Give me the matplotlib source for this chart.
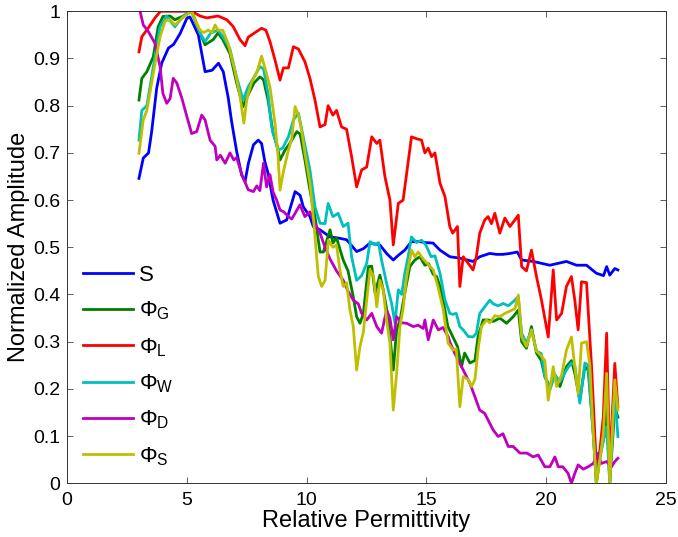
import matplotlib
matplotlib.use("Agg")
import matplotlib.pyplot as plt
from matplotlib.ticker import FixedLocator, FuncFormatter

plt.rcParams["font.family"] = ["Liberation Sans", "DejaVu Sans"]
plt.rcParams["mathtext.fontset"] = "custom"
plt.rcParams["mathtext.rm"] = "Liberation Sans"
plt.rcParams["mathtext.it"] = "Liberation Sans:italic"

# (relative permittivity, normalized amplitude)
S_pts = [(3.0, 0.646), (3.18, 0.689), (3.4, 0.70), (3.53, 0.745), (3.74, 0.837), (3.95, 0.89),
         (4.23, 0.922), (4.45, 0.93), (4.72, 0.953), (5.0, 0.985), (5.13, 0.988), (5.48, 0.95),
         (5.76, 0.872), (6.05, 0.875), (6.32, 0.89), (6.52, 0.872), (6.73, 0.816), (6.87, 0.766),
         (7.08, 0.703), (7.29, 0.653), (7.43, 0.639), (7.57, 0.678), (7.78, 0.717), (7.98, 0.727),
         (8.12, 0.72), (8.26, 0.681), (8.39, 0.657), (8.6, 0.6), (8.89, 0.551), (9.17, 0.558),
         (9.52, 0.618), (9.73, 0.61), (9.86, 0.586), (10.14, 0.565), (10.28, 0.544), (10.56, 0.537),
         (10.98, 0.522), (11.39, 0.519), (11.67, 0.516), (12.09, 0.491), (12.37, 0.497), (12.65, 0.509),
         (13.06, 0.505), (13.34, 0.487), (13.62, 0.473), (13.83, 0.483), (14.1, 0.494), (14.38, 0.512),
         (14.73, 0.512), (14.94, 0.51), (15.28, 0.509), (15.57, 0.494), (15.98, 0.48), (16.4, 0.477),
         (16.95, 0.47), (17.23, 0.48), (17.65, 0.487), (17.93, 0.485), (18.2, 0.485), (18.5, 0.487),
         (18.8, 0.49), (18.98, 0.473), (19.46, 0.47), (20.16, 0.462), (20.85, 0.47), (21.27, 0.462),
         (21.69, 0.462), (22.1, 0.445), (22.4, 0.44), (22.53, 0.459), (22.66, 0.441), (22.87, 0.455),
         (23.0, 0.452)]

PhiG_pts = [(3.0, 0.812), (3.12, 0.858), (3.33, 0.872), (3.6, 0.904), (3.8, 0.967), (4.0, 0.989),
            (4.3, 0.99), (4.5, 0.982), (4.85, 0.99), (5.2, 1.0), (5.55, 0.954), (5.76, 0.929),
            (6.1, 0.94), (6.3, 0.954), (6.5, 0.94), (6.8, 0.91), (7.08, 0.848), (7.35, 0.798),
            (7.56, 0.823), (7.8, 0.848), (8.05, 0.861), (8.2, 0.855), (8.39, 0.812), (8.6, 0.742),
            (8.75, 0.72), (8.89, 0.685), (9.1, 0.706), (9.3, 0.72), (9.59, 0.745), (9.73, 0.74),
            (9.93, 0.685), (10.14, 0.621), (10.35, 0.565), (10.56, 0.49), (10.7, 0.49), (10.98, 0.537),
            (11.1, 0.509), (11.25, 0.52), (11.53, 0.473), (11.73, 0.45), (11.95, 0.395), (12.09, 0.353),
            (12.23, 0.339), (12.37, 0.36), (12.58, 0.459), (12.72, 0.46), (12.86, 0.403), (13.06, 0.441),
            (13.2, 0.41), (13.4, 0.353), (13.62, 0.24), (13.76, 0.325), (13.9, 0.345), (14.1, 0.403),
            (14.31, 0.459), (14.52, 0.473), (14.73, 0.48), (14.94, 0.462), (15.1, 0.465), (15.28, 0.443),
            (15.43, 0.438), (15.57, 0.417), (15.7, 0.388), (15.9, 0.332), (16.1, 0.311), (16.3, 0.29),
            (16.47, 0.247), (16.6, 0.276), (16.82, 0.255), (17.03, 0.26), (17.16, 0.311), (17.37, 0.346),
            (17.58, 0.346), (17.8, 0.343), (18.07, 0.35), (18.35, 0.339), (18.63, 0.353), (18.84, 0.367),
            (18.98, 0.3), (19.18, 0.286), (19.39, 0.332), (19.6, 0.276), (19.8, 0.26), (19.95, 0.226),
            (20.16, 0.205), (20.37, 0.23), (20.58, 0.205), (20.85, 0.247), (21.06, 0.26), (21.2, 0.233),
            (21.41, 0.176), (21.62, 0.247), (21.76, 0.24), (21.97, 0.106), (22.1, 0.0), (22.25, 0.056),
            (22.45, 0.106), (22.53, 0.162), (22.66, 0.0), (22.87, 0.162), (23.0, 0.14)]

PhiL_pts = [(3.0, 0.914), (3.12, 0.946), (3.38, 0.964), (3.67, 0.986), (3.9, 1.0), (4.5, 1.0),
            (5.2, 1.0), (5.55, 0.99), (5.83, 0.986), (6.3, 0.99), (6.67, 0.982), (6.93, 0.968),
            (7.22, 0.94), (7.43, 0.927), (7.56, 0.945), (7.85, 0.955), (8.12, 0.964), (8.3, 0.96),
            (8.47, 0.936), (8.68, 0.897), (8.89, 0.854), (9.03, 0.88), (9.24, 0.88), (9.45, 0.925),
            (9.66, 0.92), (9.93, 0.893), (10.14, 0.858), (10.35, 0.812), (10.56, 0.755), (10.77, 0.76),
            (10.9, 0.80), (11.1, 0.78), (11.25, 0.79), (11.46, 0.755), (11.67, 0.75), (11.88, 0.692),
            (12.09, 0.628), (12.3, 0.664), (12.51, 0.67), (12.72, 0.734), (12.93, 0.72), (13.06, 0.727),
            (13.27, 0.65), (13.48, 0.60), (13.62, 0.505), (13.83, 0.593), (14.03, 0.60), (14.18, 0.657),
            (14.38, 0.734), (14.59, 0.73), (14.8, 0.727), (14.94, 0.70), (15.08, 0.71), (15.22, 0.692),
            (15.36, 0.70), (15.57, 0.636), (15.78, 0.607), (15.98, 0.544), (16.1, 0.53), (16.3, 0.544),
            (16.4, 0.417), (16.54, 0.48), (16.75, 0.466), (16.95, 0.452), (17.09, 0.48), (17.23, 0.53),
            (17.44, 0.558), (17.58, 0.565), (17.72, 0.55), (17.86, 0.572), (18.07, 0.53), (18.28, 0.562),
            (18.49, 0.544), (18.7, 0.558), (18.84, 0.568), (18.98, 0.459), (19.18, 0.45), (19.39, 0.494),
            (19.6, 0.438), (19.81, 0.388), (20.09, 0.31), (20.3, 0.452), (20.44, 0.346), (20.65, 0.36),
            (20.85, 0.417), (21.06, 0.438), (21.2, 0.388), (21.34, 0.325), (21.48, 0.427), (21.69, 0.425),
            (21.9, 0.247), (22.1, 0.035), (22.25, 0.07), (22.39, 0.141), (22.53, 0.318), (22.66, 0.035),
            (22.87, 0.254), (23.0, 0.162)]

PhiW_pts = [(3.0, 0.727), (3.12, 0.79), (3.33, 0.80), (3.6, 0.883), (3.88, 0.967), (4.15, 0.99),
            (4.5, 0.967), (4.85, 0.99), (5.2, 1.0), (5.55, 0.954), (5.76, 0.936), (6.0, 0.954),
            (6.3, 0.96), (6.5, 0.947), (6.8, 0.92), (7.08, 0.86), (7.35, 0.812), (7.56, 0.84),
            (7.8, 0.86), (8.05, 0.883), (8.2, 0.878), (8.39, 0.826), (8.54, 0.755), (8.8, 0.706),
            (9.0, 0.71), (9.24, 0.734), (9.45, 0.77), (9.66, 0.784), (9.86, 0.734), (10.14, 0.664),
            (10.35, 0.586), (10.56, 0.551), (10.77, 0.55), (10.9, 0.593), (11.1, 0.565), (11.32, 0.572),
            (11.53, 0.544), (11.73, 0.551), (11.88, 0.48), (12.09, 0.43), (12.3, 0.44), (12.51, 0.466),
            (12.65, 0.512), (12.86, 0.505), (13.0, 0.51), (13.13, 0.473), (13.34, 0.424), (13.55, 0.381),
            (13.69, 0.339), (13.83, 0.41), (13.97, 0.40), (14.1, 0.445), (14.24, 0.48), (14.38, 0.522),
            (14.59, 0.51), (14.8, 0.515), (14.98, 0.505), (15.2, 0.48), (15.36, 0.482), (15.57, 0.445),
            (15.78, 0.388), (15.98, 0.36), (16.1, 0.358), (16.25, 0.36), (16.4, 0.332), (16.54, 0.325),
            (16.75, 0.311), (16.95, 0.31), (17.09, 0.318), (17.23, 0.36), (17.44, 0.374), (17.65, 0.388),
            (17.8, 0.38), (18.0, 0.376), (18.21, 0.381), (18.42, 0.376), (18.63, 0.385), (18.84, 0.395),
            (18.98, 0.318), (19.18, 0.297), (19.39, 0.325), (19.6, 0.28), (19.8, 0.275), (19.95, 0.226),
            (20.16, 0.198), (20.37, 0.23), (20.58, 0.215), (20.85, 0.24), (21.06, 0.255), (21.2, 0.25),
            (21.41, 0.17), (21.62, 0.255), (21.76, 0.25), (21.97, 0.106), (22.1, 0.0), (22.25, 0.056),
            (22.39, 0.09), (22.53, 0.12), (22.66, 0.0), (22.87, 0.19), (23.0, 0.099)]

PhiD_pts = [(3.0, 1.01), (3.18, 0.971), (3.38, 0.958), (3.67, 0.932), (3.88, 0.883), (4.0, 0.826),
            (4.16, 0.805), (4.3, 0.815), (4.43, 0.858), (4.58, 0.848), (4.79, 0.816), (5.0, 0.777),
            (5.2, 0.741), (5.41, 0.745), (5.62, 0.78), (5.76, 0.77), (5.97, 0.727), (6.18, 0.714),
            (6.25, 0.685), (6.4, 0.695), (6.6, 0.678), (6.8, 0.70), (6.96, 0.685), (7.08, 0.69),
            (7.29, 0.655), (7.56, 0.622), (7.78, 0.618), (7.92, 0.63), (8.05, 0.62), (8.2, 0.678),
            (8.33, 0.628), (8.47, 0.654), (8.6, 0.617), (8.75, 0.6), (8.89, 0.579), (9.05, 0.575),
            (9.24, 0.565), (9.38, 0.56), (9.52, 0.572), (9.72, 0.59), (9.93, 0.565), (10.14, 0.575),
            (10.35, 0.55), (10.56, 0.53), (10.77, 0.50), (10.98, 0.475), (11.25, 0.45), (11.53, 0.43),
            (11.73, 0.407), (11.95, 0.388), (12.16, 0.38), (12.3, 0.36), (12.51, 0.346), (12.72, 0.36),
            (12.93, 0.332), (13.13, 0.318), (13.34, 0.367), (13.48, 0.35), (13.62, 0.304), (13.76, 0.353),
            (13.97, 0.34), (14.18, 0.339), (14.45, 0.332), (14.66, 0.335), (14.87, 0.328), (14.94, 0.346),
            (15.08, 0.304), (15.29, 0.346), (15.5, 0.325), (15.7, 0.33), (15.91, 0.311), (16.0, 0.297),
            (16.19, 0.275), (16.4, 0.254), (16.61, 0.233), (16.82, 0.212), (17.03, 0.183), (17.23, 0.155),
            (17.44, 0.148), (17.58, 0.134), (17.79, 0.113), (18.0, 0.099), (18.2, 0.105), (18.42, 0.078),
            (18.63, 0.078), (18.91, 0.064), (19.2, 0.064), (19.46, 0.056), (19.67, 0.06), (19.95, 0.035),
            (20.16, 0.035), (20.37, 0.056), (20.51, 0.035), (20.7, 0.035), (20.92, 0.021), (21.06, 0.0),
            (21.2, 0.021), (21.34, 0.039), (21.55, 0.03), (21.76, 0.035), (21.97, 0.042), (22.17, 0.064),
            (22.3, 0.042), (22.53, 0.046), (22.73, 0.035), (22.87, 0.046), (23.0, 0.053)]

PhiS_pts = [(3.0, 0.699), (3.18, 0.77), (3.33, 0.79), (3.6, 0.869), (3.88, 0.946), (4.1, 0.98),
            (4.3, 0.982), (4.5, 0.971), (4.8, 0.985), (5.2, 1.0), (5.41, 0.975), (5.55, 0.96),
            (5.7, 0.955), (5.9, 0.96), (6.05, 0.955), (6.18, 0.971), (6.3, 0.96), (6.5, 0.96),
            (6.72, 0.932), (7.0, 0.876), (7.22, 0.82), (7.38, 0.763), (7.5, 0.812), (7.7, 0.85),
            (7.92, 0.87), (8.12, 0.905), (8.26, 0.88), (8.47, 0.84), (8.68, 0.763), (8.8, 0.7),
            (8.89, 0.621), (9.03, 0.66), (9.24, 0.706), (9.38, 0.73), (9.52, 0.798), (9.66, 0.78),
            (9.8, 0.745), (9.93, 0.699), (10.14, 0.636), (10.28, 0.565), (10.42, 0.48), (10.49, 0.438),
            (10.63, 0.417), (10.77, 0.43), (10.91, 0.515), (11.1, 0.50), (11.25, 0.505), (11.39, 0.452),
            (11.53, 0.417), (11.67, 0.425), (11.81, 0.367), (11.95, 0.332), (12.09, 0.24), (12.23, 0.29),
            (12.37, 0.32), (12.51, 0.388), (12.65, 0.452), (12.79, 0.44), (12.93, 0.374), (13.06, 0.43),
            (13.2, 0.41), (13.34, 0.346), (13.48, 0.297), (13.62, 0.155), (13.76, 0.233), (13.9, 0.332),
            (14.03, 0.37), (14.18, 0.438), (14.38, 0.494), (14.52, 0.48), (14.66, 0.49), (14.87, 0.475),
            (15.0, 0.468), (15.29, 0.452), (15.5, 0.413), (15.7, 0.37), (15.91, 0.297), (16.12, 0.282),
            (16.25, 0.285), (16.4, 0.162), (16.54, 0.226), (16.75, 0.22), (16.89, 0.205), (17.03, 0.22),
            (17.16, 0.282), (17.3, 0.332), (17.51, 0.346), (17.65, 0.34), (17.86, 0.355), (18.07, 0.353),
            (18.28, 0.36), (18.5, 0.365), (18.7, 0.37), (18.84, 0.399), (18.98, 0.31), (19.18, 0.29),
            (19.39, 0.325), (19.6, 0.28), (19.8, 0.27), (19.95, 0.26), (20.09, 0.176), (20.3, 0.247),
            (20.44, 0.205), (20.65, 0.23), (20.85, 0.282), (21.06, 0.31), (21.2, 0.247), (21.34, 0.19),
            (21.48, 0.297), (21.69, 0.30), (21.83, 0.25), (21.97, 0.106), (22.1, 0.0), (22.25, 0.05),
            (22.39, 0.106), (22.53, 0.233), (22.66, 0.0), (22.87, 0.219), (23.0, 0.155)]

series = [
    (S_pts, "S", (0, 0, 1)),
    (PhiG_pts, r"$\mathrm{\Phi}_\mathrm{G}$", (0, 0.5, 0)),
    (PhiL_pts, r"$\mathrm{\Phi}_\mathrm{L}$", (1, 0, 0)),
    (PhiW_pts, r"$\mathrm{\Phi}_\mathrm{W}$", (0, 0.75, 0.75)),
    (PhiD_pts, r"$\mathrm{\Phi}_\mathrm{D}$", (0.75, 0, 0.75)),
    (PhiS_pts, r"$\mathrm{\Phi}_\mathrm{S}$", (0.75, 0.75, 0)),
]

fig = plt.figure(figsize=(6.78, 5.37), dpi=100)
ax = fig.add_axes([0.099, 0.1, 0.883, 0.879])

for pts, name, col in series:
    xs, ys = zip(*pts)
    ax.plot(xs, ys, color=col, lw=2.0, label=name)

ax.set_xlim(0, 25)
ax.set_ylim(0, 1)
ax.xaxis.set_major_locator(FixedLocator([0, 5, 10, 15, 20, 25]))
ax.yaxis.set_major_locator(FixedLocator([i / 10 for i in range(11)]))
ax.yaxis.set_major_formatter(FuncFormatter(lambda v, _: f"{v:g}"))
ax.tick_params(direction="in", top=True, right=True, labelsize=14, length=4, width=0.6,
               color="#444444")
ax.tick_params(axis="x", pad=6)
ax.tick_params(axis="y", pad=5)
for sp in ax.spines.values():
    sp.set_linewidth(0.7)
    sp.set_color("#333333")

ax.set_xlabel("Relative Permittivity", fontsize=17, labelpad=1)
ax.set_ylabel("Normalized Amplitude", fontsize=17, labelpad=2)

ax.legend(loc="lower left", bbox_to_anchor=(0.0, 0.0), frameon=False, fontsize=16,
          handlelength=2.25, handletextpad=0.3, labelspacing=0.62, borderaxespad=0.3)

fig.savefig("out.png", dpi=100)
